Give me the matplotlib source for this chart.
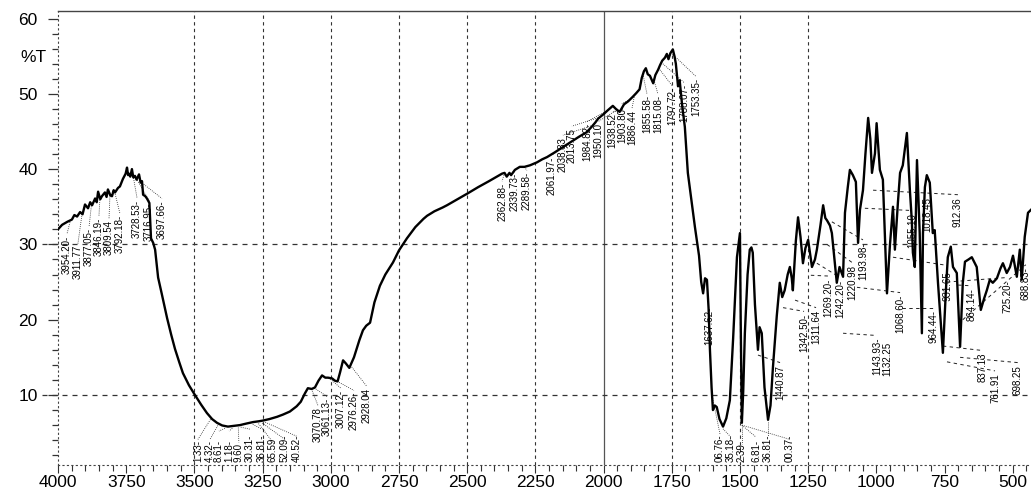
import numpy as np
import matplotlib.pyplot as plt
from matplotlib.ticker import MultipleLocator, FixedLocator
from matplotlib.transforms import blended_transform_factory

plt.rcParams['font.family'] = ['Liberation Sans', 'DejaVu Sans']

# FTIR spectrum, wavenumber (cm-1) against %T
wavenumber = [
    4000, 3985, 3966, 3949, 3940, 3930, 3919, 3910, 3901, 3890, 3882, 3875,
    3864, 3858, 3853, 3845, 3839, 3828, 3822, 3817, 3808, 3802, 3796, 3791,
    3780, 3773, 3762, 3752, 3747, 3743, 3740, 3735, 3729, 3724, 3718, 3712,
    3703, 3697, 3692, 3688, 3680, 3674, 3665, 3659, 3651, 3644, 3633, 3620,
    3600, 3585, 3571, 3555, 3542, 3520, 3498, 3475, 3454, 3435, 3417, 3398,
    3377, 3355, 3333, 3310, 3285, 3265, 3249, 3225, 3197, 3175, 3150, 3125,
    3110, 3095, 3084, 3070, 3058, 3045, 3032, 3020, 3010, 2995, 2985, 2975,
    2966, 2955, 2945, 2932, 2915, 2895, 2882, 2870, 2856, 2840, 2820, 2800,
    2772, 2750, 2721, 2690, 2660, 2647, 2620, 2590, 2574, 2540, 2497, 2460,
    2420, 2391, 2372, 2363, 2355, 2345, 2339, 2325, 2307, 2290, 2270, 2244,
    2225, 2207, 2180, 2150, 2120, 2090, 2062, 2044, 2030, 2020, 2000, 1985,
    1966, 1955, 1941, 1925, 1910, 1893, 1880, 1868, 1860, 1852, 1845, 1838,
    1830, 1818, 1810, 1800, 1793, 1785, 1775, 1768, 1762, 1755, 1746, 1740,
    1735, 1727, 1721, 1712, 1702, 1691, 1680, 1665, 1650, 1642, 1635, 1628,
    1621, 1615, 1610, 1604, 1599, 1592, 1585, 1575, 1562, 1550, 1537, 1525,
    1511, 1500, 1497, 1493, 1488, 1482, 1472, 1464, 1458, 1453, 1445, 1434,
    1428, 1420, 1410, 1397, 1388, 1379, 1365, 1354, 1345, 1336, 1325, 1317,
    1310, 1306, 1295, 1287, 1278, 1269, 1260, 1250, 1236, 1225, 1218, 1205,
    1195, 1187, 1181, 1170, 1163, 1152, 1145, 1135, 1122, 1115, 1105, 1097,
    1086, 1075, 1067, 1060, 1049, 1040, 1030, 1022, 1016, 1005, 999, 987,
    976, 961, 950, 943, 939, 932, 921, 913, 903, 888, 877, 870,
    866, 859, 851, 841, 833, 829, 822, 815, 804, 793, 786, 774,
    756, 745, 738, 727, 719, 705, 693, 683, 675, 662, 650, 632,
    617, 605, 595, 584, 573, 558, 545, 536, 522, 510, 499, 485,
    474, 467, 456, 444, 433,
]
transmittance = [
    32.0, 32.6, 33.0, 33.3, 33.9, 33.7, 34.3, 34.0, 35.3, 34.8, 35.6, 35.2,
    36.1, 35.6, 37.0, 36.0, 36.4, 36.9, 36.3, 37.3, 36.5, 36.4, 37.2, 36.9,
    37.5, 37.7, 38.7, 39.4, 40.2, 39.2, 39.4, 39.0, 40.0, 38.9, 39.1, 38.6,
    39.3, 38.2, 38.4, 36.6, 36.4, 36.1, 35.5, 30.8, 30.2, 29.3, 25.6, 23.5,
    20.2, 18.0, 16.1, 14.3, 12.9, 11.3, 10.0, 8.7, 7.6, 6.8, 6.3, 5.95,
    5.8, 5.9, 6.0, 6.2, 6.4, 6.5, 6.6, 6.8, 7.1, 7.4, 7.8, 8.5,
    9.1, 10.2, 10.9, 10.8, 11.0, 11.9, 12.6, 12.3, 12.3, 12.2, 11.9, 11.8,
    13.0, 14.6, 14.2, 13.6, 15.0, 17.3, 18.6, 19.2, 19.6, 22.3, 24.5, 26.0,
    27.6, 29.2, 30.8, 32.3, 33.4, 33.8, 34.4, 34.9, 35.2, 35.9, 36.8, 37.6,
    38.4, 39.0, 39.4, 39.5, 39.0, 39.5, 39.2, 39.9, 40.3, 40.3, 40.5, 40.9,
    41.3, 41.6, 42.2, 42.9, 43.6, 44.3, 44.9, 45.6, 46.2, 46.7, 47.3, 47.8,
    48.4, 48.0, 47.6, 48.6, 49.0, 49.6, 50.1, 50.6, 52.1, 53.0, 53.4, 52.6,
    52.4, 51.4, 52.5, 53.2, 53.8, 54.4, 54.8, 55.3, 54.6, 55.4, 55.9, 55.0,
    54.0, 51.0, 51.8, 48.5, 45.6, 39.5, 36.5, 32.3, 28.5, 25.0, 23.5, 25.5,
    25.3, 21.5, 16.0, 11.0, 8.0, 8.6, 8.4, 6.8, 5.8, 6.9, 9.3, 17.5,
    28.3, 31.5, 19.0, 6.3, 10.5, 18.2, 26.0, 29.3, 29.6, 28.9, 22.0, 16.0,
    19.0, 18.2, 11.0, 6.7, 8.6, 13.7, 20.5, 24.9, 23.0, 23.9, 26.0, 27.0,
    25.5, 23.9, 30.5, 33.6, 31.0, 27.5, 29.5, 30.6, 27.0, 28.0, 29.3, 32.5,
    35.2, 33.5, 33.2, 32.5, 31.5, 27.5, 24.9, 27.0, 25.7, 34.2, 37.5, 39.9,
    39.2, 38.3, 30.2, 34.6, 37.2, 42.0, 46.8, 44.0, 39.5, 42.1, 46.1, 39.9,
    38.6, 23.5, 30.0, 33.2, 35.0, 29.3, 35.5, 39.5, 40.5, 44.8, 37.2, 33.2,
    28.9, 27.0, 41.2, 31.5, 18.2, 31.5, 37.6, 39.2, 38.2, 31.5, 31.9, 24.9,
    15.6, 23.9, 28.3, 29.7, 27.0, 26.2, 16.4, 24.9, 27.7, 28.0, 28.3, 27.0,
    21.3, 22.8, 23.9, 25.3, 24.9, 25.5, 26.8, 27.5, 26.2, 27.0, 28.5, 25.7,
    29.3, 25.3, 31.0, 34.2, 34.6,
]

# peak labels above 1700 cm-1, leaders start on the curve
peak_text = [
    '3954.20-', '3911.77', '3877.05-', '3846.19-', '3809.54', '3792.18-',
    '3728.53-', '3716.95-', '3697.66-',
    '3070.78', '3061.13-', '3007.12-', '2976.26-', '2928.04',
    '2362.88-', '2339.73-', '2289.58-',
    '2061.97-', '2038.83', '2013.75', '1984.82-', '1950.10', '1938.52',
    '1903.80-', '1886.44', '1855.58-', '1815.08-', '1797.72-', '1788.07-',
    '1753.35-',
]
peak_from = [
    3954.2, 3911.8, 3877.1, 3846.2, 3809.5, 3792.2, 3728.5, 3717.0, 3697.7,
    3070.8, 3061.1, 3007.1, 2976.3, 2928.0,
    2362.9, 2339.7, 2289.6,
    2062.0, 2038.8, 2013.8, 1984.8, 1950.1, 1938.5, 1903.8, 1886.4, 1855.6,
    1815.1, 1797.7, 1788.1, 1753.4,
]
label_x = [
    3967, 3927, 3886, 3850, 3813, 3773, 3710, 3666, 3619,
    3047, 3014, 2963, 2915, 2867,
    2372, 2325, 2281,
    2189, 2149, 2116, 2061, 2021, 1969, 1933, 1896, 1841, 1801, 1749, 1705,
    1661,
]
label_top = [
    31.2, 29.9, 32.2, 33.5, 33.2, 33.9, 35.9, 35.6, 35.9,
    8.4, 9.6, 10.7, 10.4, 10.9,
    38.2, 39.5, 39.6,
    41.7, 44.3, 45.5, 46.1, 46.1, 47.4, 48.5, 47.8, 49.8, 49.8, 50.9, 51.3,
    52.1,
]

# fingerprint region labels with dashed leaders (start wn, start %T)
fp_text = [
    '1637.62-', '1440.87', '1342.50-', '1311.64', '1269.20-', '1242.20-',
    '1220.98', '1193.98-', '1143.93-', '1132.25', '1068.60-', '1055.10',
    '1018.45', '964.44-', '931.65-', '912.36', '864.14-', '837.13',
    '761.91', '725.20-', '698.25', '688.83-',
]
fp_from_wn = [None, 1434, 1342, 1298, 1240, 1218, 1181, 1163, 1122, None,
              1071, 1042, None, 906, 939, 1012, 700, 756, 741, 741, 693, 683]
fp_from_t = [None, 15.3, 21.6, 22.6, 25.9, 27.5, 30.0, 33.0, 18.2, None,
             24.3, 34.8, None, 21.6, 28.3, 37.2, 24.6, 16.5, 14.4, 25.0,
             15.0, 20.0]
fp_x = [1614, 1353, 1265, 1221, 1177, 1133, 1089, 1049, 998, 961, 913, 869,
        814, 792, 738, 701, 650, 609, 565, 521, 481, 452]
fp_top = [21.7, 14.0, 20.8, 21.3, 25.5, 25.3, 27.3, 30.3, 17.6, 17.0, 23.3,
          34.2, 36.3, 21.3, 26.9, 36.3, 24.2, 15.6, 12.9, 25.3, 14.0, 27.0]

# labels standing on the bottom axis (their start is cut off)
base_text = ['1.33-', '4.32-', '8.61-', '1.18-', '9.60', '30.31-', '36.81-',
             '65.59', '52.09-', '40.52-',
             '06.76-', '35.18-', '2.39', '6.81-', '36.81-', '00.37-']
base_from = [3441, 3414, 3388, 3361, 3339, 3330, 3286, 3265, 3252, 3240,
             1603, 1562, 1493, 1493, 1397, 1493]
base_x = [3487, 3443, 3410, 3373, 3337, 3296, 3252, 3212, 3168, 3124,
          1573, 1533, 1493, 1441, 1397, 1317]
base_top = [4.0, 4.0, 5.1, 5.1, 3.6, 5.35, 5.35, 3.6, 4.0, 4.4,
            4.7, 4.3, 3.4, 4.3, 4.4, 4.0]

grid_x = [3500, 3250, 3000, 2750, 2500, 2250, 1750, 1500, 1250]
grid_y = [30, 10]

fig = plt.figure(figsize=(10.31, 4.90), dpi=100)
ax = fig.add_axes([58 / 1031, 25 / 490, 973 / 1031, 454 / 490])
ax.set_xlim(4000, 433)
ax.set_ylim(0.7, 61.0)

# reference grid
for gx in grid_x:
    ax.axvline(gx, color='#333333', lw=0.8, ls=(0, (3, 3)), zorder=1)
ax.axvline(2000, color='#555555', lw=0.9, zorder=1)
yblend = blended_transform_factory(ax.transAxes, ax.transData)
for gy in grid_y:
    ax.plot([-0.016, 1], [gy, gy], transform=yblend, color='#333333',
            lw=0.9, ls=(0, (4, 4)), clip_on=False, zorder=1)

wn = np.array(wavenumber)
tr = np.array(transmittance)
ax.plot(wn, tr, color='black', lw=1.7, solid_joinstyle='round', zorder=3)

# interpolation needs increasing x
wn_up, tr_up = wn[::-1], tr[::-1]

label_kw = dict(rotation=90, fontsize=7, ha='center', color='black', zorder=4)

for txt, w0, lx, lt in zip(peak_text, peak_from, label_x, label_top):
    y0 = np.interp(w0, wn_up, tr_up)
    ax.plot([w0, lx], [y0, lt + 0.2], color='#222222', lw=0.6,
            ls=(0, (1, 1.5)), zorder=2)
    ax.text(lx, lt, txt, va='top', **label_kw)

for txt, w0, t0, lx, lt in zip(fp_text, fp_from_wn, fp_from_t, fp_x, fp_top):
    if w0 is not None:
        ax.plot([w0, lx], [t0, lt + 0.3], color='#222222', lw=0.7,
                ls=(0, (3.5, 3.5)), zorder=2)
    ax.text(lx, lt, txt, va='top', **label_kw)

for txt, w0, lx, lt in zip(base_text, base_from, base_x, base_top):
    y0 = np.interp(w0, wn_up, tr_up)
    ax.plot([w0, lx], [y0 - 0.3, lt + 0.1], color='#222222', lw=0.6,
            ls=(0, (1, 1.5)), zorder=2)
    ax.text(lx, 1.1, txt, va='bottom', **label_kw)

# axes frame
ax.spines['right'].set_visible(False)
ax.spines['top'].set_color('#444444')
ax.spines['top'].set_linewidth(1.0)
for side in ['left', 'bottom']:
    ax.spines[side].set_linestyle((0, (1, 3)))
    ax.spines[side].set_color('#444444')
    ax.spines[side].set_linewidth(0.8)

ax.xaxis.set_major_locator(FixedLocator(list(range(4000, 499, -250))))
ax.xaxis.set_minor_locator(MultipleLocator(50))
ax.yaxis.set_major_locator(FixedLocator([10, 20, 30, 40, 50, 60]))
ax.yaxis.set_minor_locator(MultipleLocator(2))
ax.tick_params(axis='x', which='major', direction='out', length=6, width=0.8,
               pad=1, labelsize=12.5, color='#333333')
ax.tick_params(axis='x', which='minor', direction='out', length=4, width=0.8,
               color='#333333')
ax.tick_params(axis='y', which='major', direction='out', length=7, width=0.9,
               pad=7.5, labelsize=12.5, color='#333333')
ax.tick_params(axis='y', which='minor', direction='out', length=4, width=0.9,
               color='#333333')

fig.text(20 / 1031, 1 - 57 / 490, '%T', fontsize=12.5, va='center', ha='left')

fig.savefig('out.png', dpi=100)
